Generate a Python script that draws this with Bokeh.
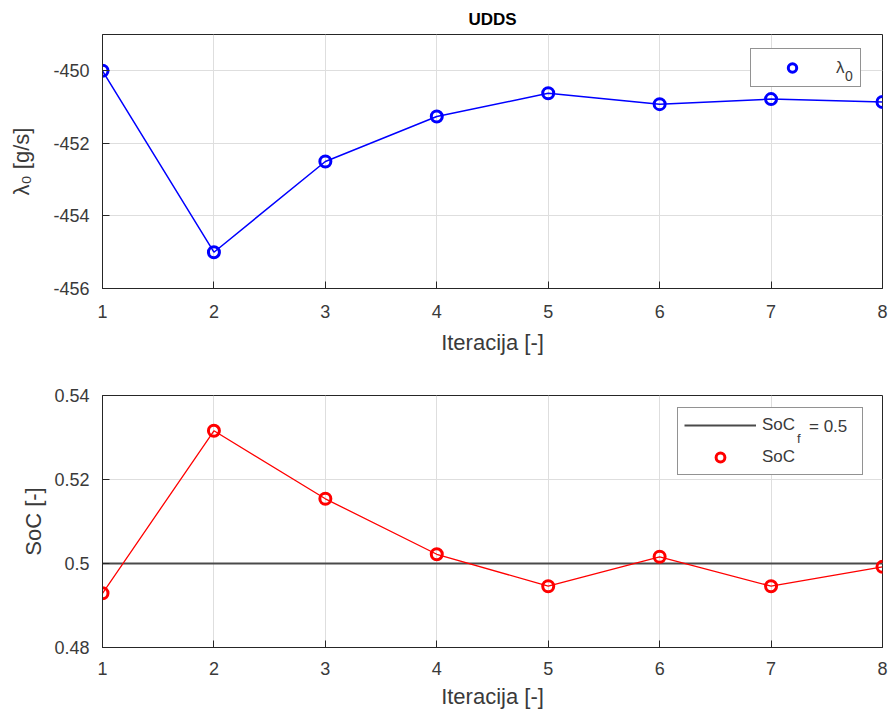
from bokeh.plotting import figure
from bokeh.layouts import column
from bokeh.models import (Legend, LegendItem, FixedTicker, Range1d)
from bokeh.embed import file_html
from bokeh.resources import INLINE

# ---- data ----
iters = [1, 2, 3, 4, 5, 6, 7, 8]
lambda0 = [-450.0, -455.0, -452.5, -451.26, -450.62, -450.92, -450.78, -450.86]
soc = [0.4929, 0.5316, 0.5154, 0.5022, 0.4946, 0.5016, 0.4946, 0.4992]
soc_target = 0.5
x_ticks = [1, 2, 3, 4, 5, 6, 7, 8]
lam_ticks = [-456, -454, -452, -450]
lam_tick_labels = {-456: "-456", -454: "-454", -452: "-452", -450: "-450"}
soc_ticks = [0.48, 0.50, 0.52, 0.54]
soc_tick_labels = {0.48: "0.48", 0.5: "0.5", 0.52: "0.52", 0.54: "0.54"}

FONT = "Liberation Sans"
TXT = "#3a3a3a"
AX = "#262626"
GRID = "#dedede"
BLUE = "#0000ff"
RED = "#ff0000"


def style(p, ylabel, yticks, yoverrides, ylabel_standoff, xl_standoff, xa_standoff):
    p.outline_line_color = AX
    p.outline_line_width = 1
    p.background_fill_color = "white"
    p.border_fill_color = "white"
    for g in (p.xgrid[0], p.ygrid[0]):
        g.grid_line_color = GRID
        g.grid_line_width = 1
    p.xgrid[0].ticker = FixedTicker(ticks=x_ticks)
    p.ygrid[0].ticker = FixedTicker(ticks=yticks)

    xa = p.below[0]
    ya = p.left[0]
    for ax, ticks in ((xa, x_ticks), (ya, yticks)):
        ax.ticker = FixedTicker(ticks=ticks)
        ax.axis_line_color = AX
        ax.major_tick_line_color = AX
        ax.major_tick_in = 7
        ax.major_tick_out = 0
        ax.minor_tick_line_color = None
        ax.major_label_text_font = FONT
        ax.major_label_text_font_size = "18px"
        ax.major_label_text_color = TXT
        ax.axis_label_text_font = FONT
        ax.axis_label_text_font_size = "22px"
        ax.axis_label_text_color = TXT
        ax.axis_label_text_font_style = "normal"
    xa.axis_label = "Iteracija [-]"
    xa.major_label_standoff = xl_standoff
    xa.axis_label_standoff = xa_standoff
    ya.axis_label = ylabel
    ya.major_label_standoff = 13
    ya.axis_label_standoff = ylabel_standoff
    ya.major_label_overrides = yoverrides


def text_only_legend(text, loc, size):
    """A borderless, transparent legend holding only a piece of text (used for subscripts)."""
    return Legend(items=[LegendItem(label=text, renderers=[])],
                  location=loc, margin=0, padding=0, glyph_width=0, glyph_height=1,
                  label_standoff=0, label_height=1, label_width=1, spacing=0,
                  label_text_font=FONT, label_text_font_size=size, label_text_color=TXT,
                  border_line_color=None, background_fill_alpha=0.0)


# ---- top: lambda0 ----
p1 = figure(width=888, height=378, output_backend="svg", toolbar_location=None,
            x_range=Range1d(1, 8), y_range=Range1d(-456, -449),
            min_border_left=102, min_border_right=6, min_border_top=34, min_border_bottom=90)
p1.title.text = "UDDS"
p1.title.align = "center"
p1.title.text_font = FONT
p1.title.text_font_size = "17px"
p1.title.text_font_style = "bold"
p1.title.text_color = "#000000"
p1.title.offset = 0
p1.title.standoff = 12
style(p1, "λ₀ [g/s]", lam_ticks, lam_tick_labels, 16, 16, 9)

p1.line(iters, lambda0, line_color=BLUE, line_width=1.5)
r_lam = p1.scatter(iters, lambda0, marker="circle", size=11, fill_color=None,
                   line_color=BLUE, line_width=3)
leg1 = Legend(items=[LegendItem(label="λ", renderers=[r_lam])],
              location=(648, 201), margin=0, padding=8,
              glyph_width=66, glyph_height=21, label_height=21, label_width=16,
              label_standoff=11, spacing=0,
              label_text_font=FONT, label_text_font_size="17px", label_text_color=TXT,
              border_line_color=AX, border_line_width=1.5, background_fill_color="white",
              background_fill_alpha=1.0)
p1.add_layout(leg1)
p1.add_layout(text_only_legend("0", (743, 204), "14px"))

# ---- bottom: SoC ----
p2 = figure(width=888, height=338, output_backend="svg", toolbar_location=None,
            x_range=Range1d(1, 8), y_range=Range1d(0.48, 0.54),
            min_border_left=102, min_border_right=6, min_border_top=17, min_border_bottom=69)
style(p2, "SoC [-]", soc_ticks, soc_tick_labels, 5, 14, 6)

r_ref = p2.line([iters[0], iters[-1]], [soc_target, soc_target], line_color="#4a4a4a", line_width=2.2)
p2.line(iters, soc, line_color=RED, line_width=1.3)
r_soc = p2.scatter(iters, soc, marker="circle", size=11, fill_color=None,
                   line_color=RED, line_width=3)
leg2 = Legend(items=[LegendItem(label="SoC", renderers=[r_ref]),
                     LegendItem(label="SoC", renderers=[r_soc])],
              location=(575, 172), margin=0, padding=6,
              glyph_width=72, glyph_height=22, label_height=22, label_width=94,
              label_standoff=6, spacing=10,
              label_text_font=FONT, label_text_font_size="17px", label_text_color=TXT,
              border_line_color=AX, border_line_width=1.5, background_fill_color="white",
              background_fill_alpha=1.0)
p2.add_layout(leg2)
# subscript f and "= 0.5" completing the first legend entry (SoC_f = 0.5)
p2.add_layout(text_only_legend("f", (695, 201), "13px"))
p2.add_layout(text_only_legend("= 0.5", (707, 210), "17px"))

layout = column(p1, p2, spacing=0)
open("out.html", "w").write(file_html(layout, INLINE))
